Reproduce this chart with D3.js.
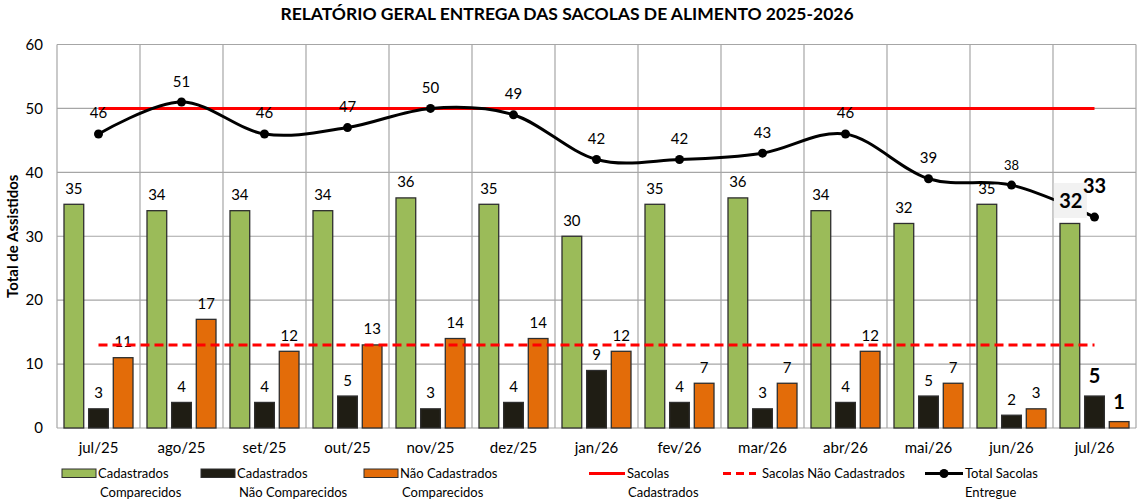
<!DOCTYPE html>
<html>
<head>
<meta charset="utf-8">
<script src="https://cdn.jsdelivr.net/npm/d3@7"></script>
<style>
  body { margin: 0; background: #fff; }
  svg { display: block; font-family: Lato, "Open Sans", sans-serif; }
</style>
</head>
<body>
<svg id="chart" width="1137" height="501"></svg>
<script>
var months = ['jul/25','ago/25','set/25','out/25','nov/25','dez/25','jan/26','fev/26','mar/26','abr/26','mai/26','jun/26','jul/26'];
var cadComparecidos = [35,34,34,34,36,35,30,35,36,34,32,35,32];
var cadNaoComparecidos = [3,4,4,5,3,4,9,4,3,4,5,2,5];
var naoCadComparecidos = [11,17,12,13,14,14,12,7,7,12,7,3,1];
var sacolasCadastrados = [50,50,50,50,50,50,50,50,50,50,50,50,50];
var sacolasNaoCadastrados = [13,13,13,13,13,13,13,13,13,13,13,13,13];
var totalEntregue = [46,51,46,47,50,49,42,42,43,46,39,38,33];
var yTicks = [0,10,20,30,40,50,60];

var barSeries = [
  { name: 'cc', values: cadComparecidos, color: '#9bbb59' },
  { name: 'cn', values: cadNaoComparecidos, color: '#1f1d14' },
  { name: 'nc', values: naoCadComparecidos, color: '#e36c09' }
];

var svg = d3.select('#chart'),
    plotLeft = 57, plotRight = 1136, plotTop = 44.5, plotBottom = 428;

var x = d3.scaleBand().domain(months).range([plotLeft, plotRight]).padding(0);
var xs = d3.scaleBand().domain(barSeries.map(function(s) { return s.name; }))
  .range([7, x.bandwidth() - 7]).paddingInner(0.2);
var y = d3.scaleLinear().domain([0, 60]).range([plotBottom, plotTop]);
var cx = function(m) { return x(m) + x.bandwidth() / 2; };

// title
svg.append('text').attr('x', 567).attr('y', 20).attr('text-anchor', 'middle')
  .style('font-weight', 'bold').style('font-size', '17.5px').text('RELATÓRIO GERAL ENTREGA DAS SACOLAS DE ALIMENTO 2025-2026');

// grid
var grid = svg.append('g').attr('stroke', '#a6a6a6').attr('stroke-width', 1.2);
yTicks.forEach(function(t) {
  grid.append('line').attr('x1', plotLeft).attr('x2', plotRight).attr('y1', y(t)).attr('y2', y(t));
});
months.forEach(function(m) {
  grid.append('line').attr('x1', x(m)).attr('x2', x(m)).attr('y1', plotTop).attr('y2', plotBottom);
});
grid.append('line').attr('x1', plotRight).attr('x2', plotRight).attr('y1', plotTop).attr('y2', plotBottom);

// y axis labels
var yAxis = svg.append('g').attr('transform', 'translate(' + plotLeft + ',0)')
  .call(d3.axisLeft(y).tickValues(yTicks).tickSize(0).tickPadding(14));
yAxis.select('.domain').remove();
yAxis.selectAll('text').style('font-size', '15px').style('font-family', 'Lato, sans-serif').attr('fill', '#000');

svg.append('text').attr('transform', 'translate(18,' + ((plotTop + plotBottom) / 2) + ') rotate(-90)')
  .attr('text-anchor', 'middle').style('font-weight', 'bold').style('font-size', '15px').text('Total de Assistidos');

// x axis labels
var xAxis = svg.append('g').attr('transform', 'translate(0,' + plotBottom + ')')
  .call(d3.axisBottom(x).tickSize(0).tickPadding(14));
xAxis.select('.domain').remove();
xAxis.selectAll('text').style('font-size', '15px').style('font-family', 'Lato, sans-serif').attr('fill', '#000');

// bars
var last = months[months.length - 1];
barSeries.forEach(function(s) {
  var g = svg.append('g');
  g.selectAll('rect').data(s.values).enter().append('rect')
    .attr('x', function(d, i) { return x(months[i]) + xs(s.name); })
    .attr('y', function(d) { return y(d); })
    .attr('width', xs.bandwidth())
    .attr('height', function(d) { return plotBottom - y(d); })
    .attr('fill', s.color).attr('stroke', '#2e2e2e').attr('stroke-width', 1.3);
  g.selectAll('text').data(s.values).enter().append('text')
    .filter(function(d, i) { return months[i] !== last; })
    .attr('x', function(d, i) { return x(months[i]) + xs(s.name) + xs.bandwidth() / 2; })
    .attr('y', function(d) { return y(d) - 10.5; })
    .attr('text-anchor', 'middle').style('font-size', '15px').text(function(d) { return d; });
});

// reference lines
var flat = d3.line().x(function(d, i) { return cx(months[i]); }).y(function(d) { return y(d); });
svg.append('path').datum(sacolasCadastrados).attr('d', flat)
  .attr('fill', 'none').attr('stroke', '#ff0000').attr('stroke-width', 3);
svg.append('path').datum(sacolasNaoCadastrados).attr('d', flat)
  .attr('fill', 'none').attr('stroke', '#ff0000').attr('stroke-width', 3).attr('stroke-dasharray', '9,5');

// total line
var smooth = d3.line().x(function(d, i) { return cx(months[i]); }).y(function(d) { return y(d); })
  .curve(d3.curveCatmullRom.alpha(0));
svg.append('path').datum(totalEntregue).attr('d', smooth)
  .attr('fill', 'none').attr('stroke', '#000').attr('stroke-width', 3);
svg.append('g').selectAll('circle').data(totalEntregue).enter().append('circle')
  .attr('cx', function(d, i) { return cx(months[i]); }).attr('cy', function(d) { return y(d); })
  .attr('r', 4.5).attr('fill', '#000');
svg.append('g').selectAll('text').data(totalEntregue).enter().append('text')
  .filter(function(d, i) { return months[i] !== last; })
  .attr('x', function(d, i) { return cx(months[i]); })
  .attr('y', function(d) { return y(d) - 15.5; })
  .attr('text-anchor', 'middle')
  .style('font-size', function(d, i) { return i === 11 ? '13px' : '15px'; })
  .text(function(d) { return d; });

// last month labels, bold and bigger
var li = months.length - 1;
var gx = x(last) + xs('cc') + xs.bandwidth() / 2;
svg.append('rect').attr('x', gx - 16).attr('y', y(32) - 40.5).attr('width', 33).attr('height', 35).attr('fill', '#f2f2f2');
svg.append('text').attr('x', gx + 1).attr('y', y(32) - 15.5).attr('text-anchor', 'middle')
  .style('font-weight', 'bold').style('font-size', '20px').text(cadComparecidos[li]);
svg.append('text').attr('x', cx(last)).attr('y', y(totalEntregue[li]) - 24).attr('text-anchor', 'middle')
  .style('font-weight', 'bold').style('font-size', '20px').text(totalEntregue[li]);
svg.append('text').attr('x', x(last) + xs('cn') + xs.bandwidth() / 2).attr('y', y(cadNaoComparecidos[li]) - 13)
  .attr('text-anchor', 'middle').style('font-weight', 'bold').style('font-size', '20px').text(cadNaoComparecidos[li]);
svg.append('text').attr('x', x(last) + xs('nc') + xs.bandwidth() / 2).attr('y', y(naoCadComparecidos[li]) - 13)
  .attr('text-anchor', 'middle').style('font-weight', 'bold').style('font-size', '20px').text(naoCadComparecidos[li]);

// legend
var legend = svg.append('g').style('font-size', '13px');
var boxes = [
  { x: 62, color: '#9bbb59', l1: 'Cadastrados', l2: 'Comparecidos' },
  { x: 201, color: '#1f1d14', l1: 'Cadastrados', l2: 'Não Comparecidos' },
  { x: 364, color: '#e36c09', l1: 'Não Cadastrados', l2: 'Comparecidos' }
];
boxes.forEach(function(b) {
  legend.append('rect').attr('x', b.x).attr('y', 469).attr('width', 34).attr('height', 8.5)
    .attr('fill', b.color).attr('stroke', '#2e2e2e').attr('stroke-width', 1);
  legend.append('text').attr('x', b.x + 36).attr('y', 478).text(b.l1);
  legend.append('text').attr('x', b.x + 38).attr('y', 497).text(b.l2);
});
legend.append('line').attr('x1', 589).attr('x2', 625).attr('y1', 473.5).attr('y2', 473.5)
  .attr('stroke', '#ff0000').attr('stroke-width', 3);
legend.append('text').attr('x', 627).attr('y', 478).text('Sacolas');
legend.append('text').attr('x', 628).attr('y', 497).text('Cadastrados');
legend.append('line').attr('x1', 723).attr('x2', 756).attr('y1', 473.5).attr('y2', 473.5)
  .attr('stroke', '#ff0000').attr('stroke-width', 3).attr('stroke-dasharray', '8,5');
legend.append('text').attr('x', 762).attr('y', 478).text('Sacolas Não Cadastrados');
legend.append('line').attr('x1', 925).attr('x2', 963).attr('y1', 473.5).attr('y2', 473.5)
  .attr('stroke', '#000').attr('stroke-width', 3);
legend.append('circle').attr('cx', 944).attr('cy', 473.5).attr('r', 4.5).attr('fill', '#000');
legend.append('text').attr('x', 965).attr('y', 478).text('Total Sacolas');
legend.append('text').attr('x', 965).attr('y', 497).text('Entregue');
</script>
</body>
</html>
